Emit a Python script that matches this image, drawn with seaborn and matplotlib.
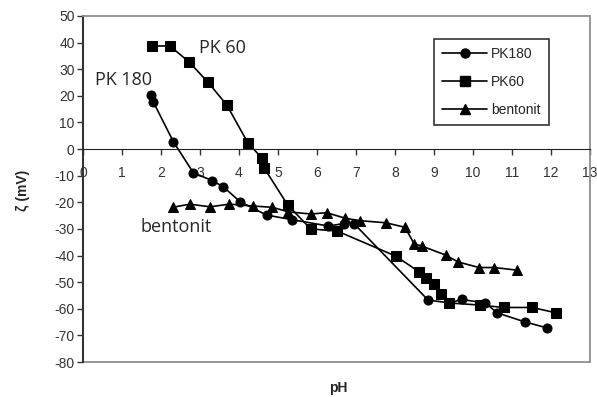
import seaborn as sns
import matplotlib.pyplot as plt
import pandas as pd
from matplotlib.lines import Line2D

# zeta potential vs pH
pk180_ph = [1.74, 1.80, 2.32, 2.83, 3.32, 3.60, 4.03, 4.71, 5.35, 6.29, 6.70, 6.95,
            8.85, 9.40, 9.71, 10.32, 10.62, 11.33, 11.91]
pk180_zeta = [20.3, 17.8, 2.7, -8.9, -11.9, -14.2, -19.8, -24.8, -26.5, -28.9, -28.0, -28.0,
              -56.7, -57.8, -56.5, -57.8, -61.5, -64.9, -67.2]

pk60_ph = [1.77, 2.23, 2.72, 3.20, 3.69, 4.23, 4.59, 4.65, 5.25, 5.84, 6.52,
           8.02, 8.62, 8.81, 9.00, 9.19, 9.39, 10.18, 10.79, 11.52, 12.13]
pk60_zeta = [38.7, 38.7, 32.7, 25.2, 16.5, 2.3, -3.4, -7.2, -21.0, -30.0, -30.8,
             -40.2, -46.1, -48.6, -50.8, -54.5, -57.8, -58.6, -59.5, -59.5, -61.5]

bent_ph = [2.30, 2.74, 3.26, 3.75, 4.37, 4.86, 5.27, 5.85, 6.25, 6.73, 7.10,
           7.77, 8.26, 8.49, 8.70, 9.30, 9.62, 10.16, 10.55, 11.14]
bent_zeta = [-21.9, -20.7, -21.7, -20.7, -21.4, -21.9, -23.6, -24.4, -23.9, -26.0, -26.9,
             -27.7, -29.4, -35.5, -36.5, -39.8, -42.4, -44.5, -44.5, -45.5]

names = ['PK180', 'PK60', 'bentonit']
markers = {'PK180': 'o', 'PK60': 's', 'bentonit': '^'}

df = pd.concat([
    pd.DataFrame({'pH': pk180_ph, 'zeta': pk180_zeta, 'sample': 'PK180'}),
    pd.DataFrame({'pH': pk60_ph, 'zeta': pk60_zeta, 'sample': 'PK60'}),
    pd.DataFrame({'pH': bent_ph, 'zeta': bent_zeta, 'sample': 'bentonit'}),
])

sns.set_style('white')
plt.rcParams['font.family'] = ['Liberation Sans', 'DejaVu Sans']
plt.rcParams['axes.unicode_minus'] = False

fig = plt.figure(figsize=(5.97, 3.97), dpi=100)
ax = fig.add_axes([0.139, 0.088, 0.849, 0.872])

sns.lineplot(data=df, x='pH', y='zeta', style='sample', markers=markers, dashes=False,
             color='black', estimator=None, sort=False, markersize=6.5, linewidth=1.2,
             markeredgecolor='black', legend=False, ax=ax)

ax.set_xlim(0, 13)
ax.set_ylim(-80, 50)
ax.set_xticks(range(0, 14))
ax.set_yticks(range(-80, 51, 10))

# x axis sits at zeta = 0, grey frame on the other three sides
frame_grey = '#8f8f8f'
ax.spines['bottom'].set_position(('data', 0))
ax.spines['bottom'].set_color('#222222')
ax.spines['left'].set_color('#333333')
ax.spines['left'].set_linewidth(1.5)
for side in ['top', 'right']:
    ax.spines[side].set_visible(True)
    ax.spines[side].set_color(frame_grey)
    ax.spines[side].set_linewidth(1.3)
ax.axhline(-80, color=frame_grey, linewidth=1.3, clip_on=False)

ax.tick_params(axis='x', direction='out', length=4, width=1, colors='#333333',
               labelsize=10, pad=8, bottom=True)
ax.tick_params(axis='y', direction='out', length=4, width=1, colors='#333333',
               labelsize=10, pad=2, left=True)

ax.set_xlabel('pH', fontweight='bold', fontsize=10)
ax.xaxis.set_label_coords(0.503, -0.055)
ax.set_ylabel('ζ (mV)', fontweight='bold', fontsize=10)
ax.yaxis.set_label_coords(-0.104, 0.497)

for label, x, y in [('PK 180', 1.03, 25.9), ('PK 60', 3.57, 38.0), ('bentonit', 2.38, -29.2)]:
    ax.text(x, y, label, family=['Open Sans', 'DejaVu Sans'], fontsize=13,
            ha='center', va='center')

handles = [Line2D([], [], color='black', marker=markers[n], markersize=6.5,
                  linewidth=1.2) for n in names]
leg = ax.legend(handles, names, loc='upper right', bbox_to_anchor=(0.919, 0.934),
                frameon=True, fancybox=False, edgecolor='black', fontsize=10,
                handlelength=3.2, borderpad=0.6, labelspacing=1.0, handletextpad=0.3,
                borderaxespad=0)
leg.get_frame().set_linewidth(1.2)

fig.savefig('out.png', dpi=100)
